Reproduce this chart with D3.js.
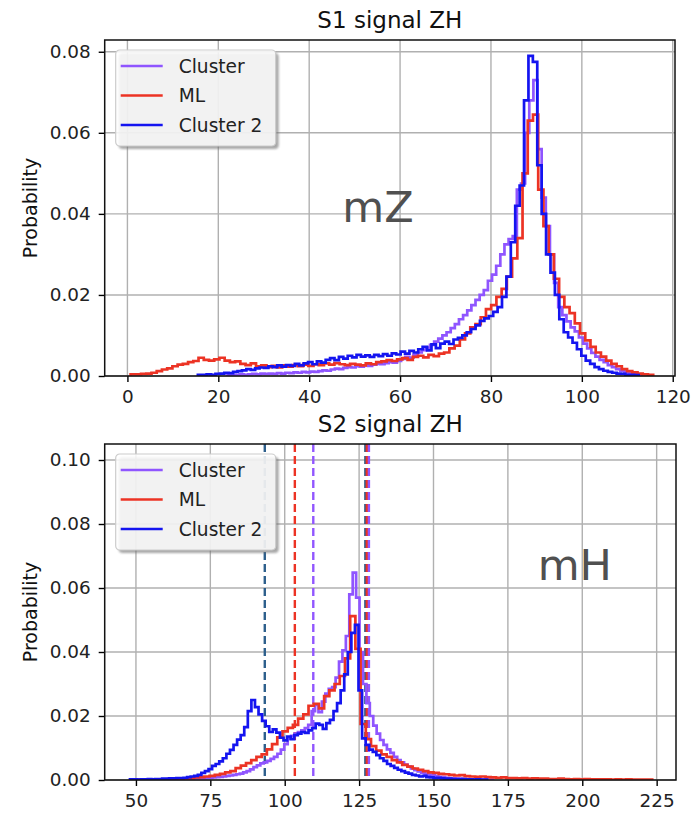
<!DOCTYPE html>
<html><head><meta charset="utf-8">
<script src="https://cdn.jsdelivr.net/npm/d3@7"></script>
<style>body{margin:0;background:#fff;} svg{display:block;font-family:"DejaVu Sans",sans-serif;}</style>
</head><body><svg id="chart" width="700" height="814"></svg>
<script>
// ---------- DATA ----------
const seriesNames = ["Cluster", "ML", "Cluster 2"];

// Top panel: mZ (S1 signal ZH), step histograms (probability per bin)
const mzXTicks = [0, 20, 40, 60, 80, 100, 120];
const mzYTicks = [0, 0.02, 0.04, 0.06, 0.08];
const mzClusterBinStart = 22.0, mzClusterBinWidth = 0.91;
const mzClusterProb = [
0.0002,0.0003,0.0002,0.0004,0.0003,0.0004,0.0005,0.0004,0.0006,0.0005,
0.0006,0.0005,0.0007,0.0006,0.0008,0.0007,0.0009,0.0008,0.0010,0.0009,
0.0011,0.0010,0.0012,0.0014,0.0013,0.0016,0.0018,0.0017,0.0020,0.0022,
0.0021,0.0024,0.0023,0.0026,0.0025,0.0028,0.0030,0.0029,0.0032,0.0034,
0.0033,0.0037,0.0042,0.0047,0.0045,0.0052,0.0058,0.0064,0.0070,0.0077,
0.0085,0.0092,0.0100,0.0108,0.0118,0.0128,0.0140,0.0150,0.0162,0.0175,
0.0188,0.0200,0.0212,0.0235,0.0250,0.0272,0.0300,0.0325,0.0338,0.0345,
0.0460,0.0475,0.0600,0.0680,0.0730,0.0560,0.0440,0.0370,0.0300,0.0230,
0.0170,0.0150,0.0135,0.0120,0.0110,0.0095,0.0080,0.0068,0.0057,0.0048,
0.0040,0.0034,0.0027,0.0022,0.0017,0.0013,0.0010,0.0007,0.0005,0.0003];
const mzMLBinStart = 0.7, mzMLBinWidth = 1.15;
const mzMLProb = [
0.0004,0.0004,0.0005,0.0006,0.0008,0.0012,0.0016,0.0019,0.0024,0.0028,
0.0030,0.0034,0.0037,0.0045,0.0040,0.0038,0.0041,0.0045,0.0038,0.0034,
0.0036,0.0030,0.0027,0.0031,0.0024,0.0026,0.0022,0.0025,0.0021,0.0026,
0.0023,0.0027,0.0024,0.0028,0.0025,0.0029,0.0027,0.0031,0.0028,0.0032,
0.0029,0.0027,0.0030,0.0028,0.0026,0.0031,0.0029,0.0034,0.0036,0.0039,
0.0037,0.0041,0.0044,0.0040,0.0047,0.0050,0.0046,0.0052,0.0049,0.0055,
0.0058,0.0068,0.0075,0.0090,0.0105,0.0120,0.0128,0.0145,0.0165,0.0175,
0.0195,0.0215,0.0245,0.0290,0.0340,0.0500,0.0630,0.0645,0.0460,0.0370,
0.0300,0.0240,0.0195,0.0170,0.0155,0.0130,0.0105,0.0088,0.0072,0.0058,
0.0048,0.0038,0.0030,0.0024,0.0017,0.0012,0.0009,0.0006,0.0004,0.0003];
const mzCluster2BinStart = 15.5, mzCluster2BinWidth = 0.97;
const mzCluster2Prob = [
0.0003,0.0003,0.0004,0.0003,0.0005,0.0006,0.0008,0.0007,0.0010,0.0012,
0.0014,0.0017,0.0015,0.0019,0.0021,0.0020,0.0024,0.0022,0.0026,0.0023,
0.0027,0.0025,0.0030,0.0026,0.0031,0.0034,0.0029,0.0036,0.0033,0.0040,
0.0044,0.0039,0.0047,0.0043,0.0050,0.0046,0.0052,0.0048,0.0051,0.0047,
0.0052,0.0049,0.0054,0.0050,0.0056,0.0053,0.0060,0.0055,0.0062,0.0058,
0.0066,0.0072,0.0063,0.0078,0.0069,0.0080,0.0085,0.0079,0.0090,0.0094,
0.0100,0.0108,0.0116,0.0125,0.0136,0.0142,0.0148,0.0158,0.0170,0.0195,
0.0245,0.0330,0.0420,0.0470,0.0680,0.0790,0.0775,0.0520,0.0400,0.0300,
0.0255,0.0200,0.0140,0.0108,0.0095,0.0082,0.0066,0.0050,0.0038,0.0030,
0.0022,0.0017,0.0013,0.0010,0.0008,0.0006,0.0005,0.0003,0.0003,0.0002];

// Bottom panel: mH (S2 signal ZH)
const mhXTicks = [50, 75, 100, 125, 150, 175, 200, 225];
const mhYTicks = [0, 0.02, 0.04, 0.06, 0.08, 0.10];
const mhClusterBinStart = 55.0, mhClusterBinWidth = 1.15;
const mhClusterProb = [
0.0001,0.0001,0.0002,0.0001,0.0002,0.0002,0.0001,0.0002,0.0003,0.0002,
0.0003,0.0003,0.0004,0.0004,0.0005,0.0005,0.0006,0.0007,0.0008,0.0009,
0.0010,0.0011,0.0013,0.0014,0.0016,0.0018,0.0020,0.0024,0.0028,0.0033,
0.0040,0.0046,0.0052,0.0055,0.0060,0.0066,0.0072,0.0082,0.0095,0.0112,
0.0130,0.0138,0.0145,0.0150,0.0155,0.0162,0.0172,0.0215,0.0235,0.0212,
0.0245,0.0270,0.0285,0.0290,0.0320,0.0370,0.0405,0.0450,0.0580,0.0648,
0.0570,0.0400,0.0300,0.0240,0.0200,0.0170,0.0145,0.0125,0.0110,0.0096,
0.0085,0.0072,0.0062,0.0055,0.0048,0.0042,0.0036,0.0031,0.0027,0.0023,
0.0020,0.0017,0.0015,0.0012,0.0010,0.0009,0.0007,0.0006,0.0005,0.0004,
0.0004,0.0003,0.0003,0.0002,0.0002,0.0002,0.0001,0.0001,0.0001,0.0001];
const mhMLBinStart = 48.5, mhMLBinWidth = 1.75;
const mhMLProb = [
0.0001,0.0001,0.0001,0.0002,0.0001,0.0002,0.0002,0.0003,0.0003,0.0004,
0.0005,0.0006,0.0008,0.0009,0.0011,0.0013,0.0016,0.0019,0.0024,0.0028,
0.0037,0.0045,0.0053,0.0062,0.0072,0.0080,0.0096,0.0112,0.0133,0.0152,
0.0163,0.0172,0.0192,0.0205,0.0232,0.0238,0.0224,0.0262,0.0280,0.0300,
0.0325,0.0380,0.0512,0.0410,0.0175,0.0128,0.0106,0.0092,0.0080,0.0072,
0.0062,0.0055,0.0047,0.0042,0.0036,0.0032,0.0028,0.0024,0.0022,0.0019,
0.0018,0.0016,0.0014,0.0015,0.0012,0.0011,0.0010,0.0011,0.0009,0.0008,
0.0007,0.0008,0.0006,0.0006,0.0005,0.0006,0.0004,0.0005,0.0004,0.0004,
0.0003,0.0003,0.0004,0.0003,0.0002,0.0003,0.0002,0.0003,0.0002,0.0002,
0.0002,0.0002,0.0001,0.0002,0.0001,0.0002,0.0001,0.0001,0.0001,0.0001];
const mhCluster2BinStart = 48.0, mhCluster2BinWidth = 1.2;
const mhCluster2Prob = [
0.0002,0.0002,0.0001,0.0002,0.0002,0.0003,0.0002,0.0003,0.0003,0.0004,
0.0004,0.0005,0.0005,0.0006,0.0006,0.0007,0.0009,0.0011,0.0013,0.0016,
0.0022,0.0028,0.0034,0.0044,0.0050,0.0058,0.0068,0.0082,0.0094,0.0110,
0.0126,0.0140,0.0165,0.0215,0.0250,0.0228,0.0205,0.0185,0.0168,0.0150,
0.0158,0.0148,0.0132,0.0124,0.0136,0.0128,0.0140,0.0145,0.0150,0.0147,
0.0155,0.0162,0.0176,0.0172,0.0160,0.0178,0.0188,0.0215,0.0240,0.0280,
0.0330,0.0400,0.0460,0.0485,0.0280,0.0130,0.0110,0.0095,0.0088,0.0078,
0.0068,0.0060,0.0050,0.0044,0.0038,0.0032,0.0028,0.0023,0.0020,0.0016,
0.0014,0.0011,0.0013,0.0009,0.0008,0.0006,0.0007,0.0005,0.0004,0.0004,
0.0003,0.0003,0.0002,0.0003,0.0002,0.0002,0.0001,0.0002,0.0001,0.0001];
// dashed reference lines (mH values) and the series they belong to
const mhLineValues = [93.3, 103.4, 109.6, 127.1, 127.6, 128.3];
const mhLineSeries = ["Cluster 2", "ML", "Cluster", "Cluster 2", "ML", "Cluster"];

// ---------- STYLE ----------
const colors = {"Cluster": "#8f55ff", "ML": "#ec3324", "Cluster 2": "#1414f0"};
const lineColors = {"Cluster": "#9156ff", "ML": "#ec3324", "Cluster 2": "#2d5f8c"};

const svg = d3.select("#chart");
const defs = svg.append("defs");
defs.append("filter").attr("id", "shadowBlur").attr("x", "-10%").attr("y", "-10%").attr("width", "130%").attr("height", "130%")
  .append("feGaussianBlur").attr("stdDeviation", 1.3);

function panel(cfg) {
  const {left, right, top, bottom} = cfg.box;
  const x = d3.scaleLinear().domain(cfg.xDomain).range([left, right]);
  const y = d3.scaleLinear().domain(cfg.yDomain).range([bottom, top]);
  const g = svg.append("g");
  const clipId = cfg.id + "-clip";
  defs.append("clipPath").attr("id", clipId).append("rect")
    .attr("x", left).attr("y", top).attr("width", right - left).attr("height", bottom - top);

  // grid
  const grid = g.append("g").attr("stroke", "#b0b0b0").attr("stroke-width", 1.4);
  grid.selectAll("line.gx").data(cfg.xTicks).join("line").attr("class", "gx")
    .attr("x1", d => x(d)).attr("x2", d => x(d)).attr("y1", top).attr("y2", bottom);
  grid.selectAll("line.gy").data(cfg.yTicks).join("line").attr("class", "gy")
    .attr("x1", left).attr("x2", right).attr("y1", d => y(d)).attr("y2", d => y(d));

  const plot = g.append("g").attr("clip-path", `url(#${clipId})`);
  // dashed lines
  if (cfg.vlines) {
    plot.selectAll("line.vl").data(cfg.vlines).join("line").attr("class", "vl")
      .attr("x1", d => x(d.v)).attr("x2", d => x(d.v)).attr("y1", top).attr("y2", bottom)
      .attr("stroke", d => lineColors[d.s]).attr("stroke-width", 2.4).attr("stroke-dasharray", "8,4");
  }
  // histograms
  const line = d3.line().x(d => x(d[0])).y(d => y(d[1]));
  cfg.series.forEach(s => {
    const pts = [[s.start, 0]];
    s.values.forEach((v, i) => { pts.push([s.start + i * s.width, v]); pts.push([s.start + (i + 1) * s.width, v]); });
    pts.push([s.start + s.values.length * s.width, 0]);
    plot.append("path").attr("d", line(pts)).attr("fill", "none")
      .attr("stroke", colors[s.name]).attr("stroke-width", 2.7).attr("stroke-linejoin", "miter");
  });

  // annotation
  g.append("text").attr("x", x(cfg.note.x)).attr("y", y(cfg.note.y)).text(cfg.note.text)
    .attr("font-size", 43).attr("fill", "#505050");

  // axes
  const xa = g.append("g").attr("transform", `translate(0,${bottom})`)
    .call(d3.axisBottom(x).tickValues(cfg.xTicks).tickSize(6).tickPadding(8).tickFormat(d3.format("d")));
  const ya = g.append("g").attr("transform", `translate(${left},0)`)
    .call(d3.axisLeft(y).tickValues(cfg.yTicks).tickSize(6).tickPadding(8).tickFormat(d3.format(".2f")));
  [xa, ya].forEach(a => {
    a.select(".domain").remove();
    a.selectAll(".tick line").attr("stroke", "#000").attr("stroke-width", 1.4);
    a.selectAll(".tick text").attr("font-size", 18.4).attr("fill", "#222").attr("font-family", "DejaVu Sans");
  });
  g.append("rect").attr("x", left).attr("y", top).attr("width", right - left).attr("height", bottom - top)
    .attr("fill", "none").attr("stroke", "#111").attr("stroke-width", 1.5);

  // title & y label
  g.append("text").attr("x", (left + right) / 2).attr("y", cfg.titleY).attr("text-anchor", "middle")
    .attr("font-size", 23).attr("fill", "#111").text(cfg.title);
  g.append("text").attr("transform", `translate(37,${(top + bottom) / 2}) rotate(-90)`)
    .attr("text-anchor", "middle").attr("font-size", 19).attr("fill", "#111").text("Probability");

  // legend
  const lg = g.append("g").attr("transform", `translate(${left + 11},${top + 10})`);
  const lw = 160, lh = 96;
  lg.append("rect").attr("x", 3).attr("y", 3).attr("width", lw).attr("height", lh).attr("rx", 4)
    .attr("fill", "#6e6e6e").attr("opacity", 0.6).attr("filter", "url(#shadowBlur)");
  lg.append("rect").attr("width", lw).attr("height", lh).attr("rx", 4)
    .attr("fill", "#fff").attr("fill-opacity", 0.85).attr("stroke", "#cccccc").attr("stroke-width", 1.2);
  const rows = [16, 45.5, 75];
  seriesNames.forEach((n, i) => {
    lg.append("line").attr("x1", 5).attr("x2", 47).attr("y1", rows[i]).attr("y2", rows[i])
      .attr("stroke", colors[n]).attr("stroke-width", 2.7);
    lg.append("text").attr("x", 63).attr("y", rows[i]).attr("dy", "0.36em").attr("font-size", 18.6)
      .attr("fill", "#222").text(n);
  });
}

panel({
  id: "mz", box: {left: 104.7, right: 675, top: 40, bottom: 376},
  xDomain: [-5, 120.5], yDomain: [0, 0.0829],
  xTicks: mzXTicks, yTicks: mzYTicks, title: "S1 signal ZH", titleY: 28,
  note: {text: "mZ", x: 47.3, y: 0.038},
  series: [
    {name: "Cluster", start: mzClusterBinStart, width: mzClusterBinWidth, values: mzClusterProb},
    {name: "ML", start: mzMLBinStart, width: mzMLBinWidth, values: mzMLProb},
    {name: "Cluster 2", start: mzCluster2BinStart, width: mzCluster2BinWidth, values: mzCluster2Prob}
  ]
});

panel({
  id: "mh", box: {left: 104.7, right: 676, top: 444, bottom: 780},
  xDomain: [39.5, 231.5], yDomain: [0, 0.105],
  xTicks: mhXTicks, yTicks: mhYTicks, title: "S2 signal ZH", titleY: 432,
  note: {text: "mH", x: 185, y: 0.0626},
  vlines: mhLineValues.map((v, i) => ({v: v, s: mhLineSeries[i]})),
  series: [
    {name: "Cluster", start: mhClusterBinStart, width: mhClusterBinWidth, values: mhClusterProb},
    {name: "ML", start: mhMLBinStart, width: mhMLBinWidth, values: mhMLProb},
    {name: "Cluster 2", start: mhCluster2BinStart, width: mhCluster2BinWidth, values: mhCluster2Prob}
  ]
});
</script></body></html>
